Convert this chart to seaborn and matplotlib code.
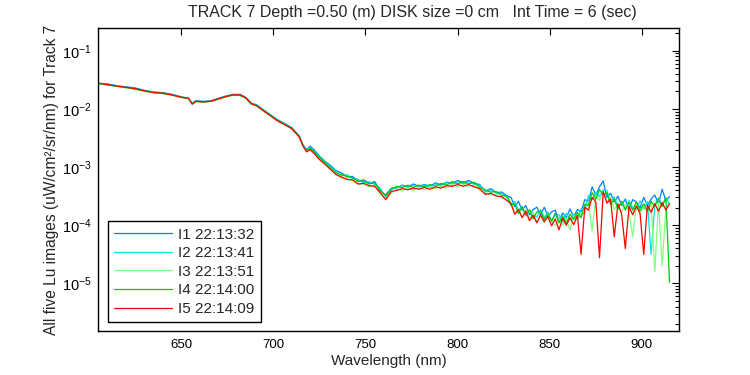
import matplotlib
matplotlib.use("Agg")
import matplotlib.pyplot as plt
import seaborn as sns
import numpy as np
import pandas as pd

sns.set_style("white")
plt.rcParams["font.family"] = ["Liberation Sans", "DejaVu Sans"]
plt.rcParams["mathtext.fontset"] = "custom"
plt.rcParams["mathtext.rm"] = "Liberation Sans"
plt.rcParams["mathtext.it"] = "Liberation Sans:italic"
plt.rcParams["mathtext.bf"] = "Liberation Sans:bold"

# wavelength grid (nm)
wavelength = [
    605, 610, 615, 620, 625, 630, 635, 640, 645, 650, 654, 656, 658, 662, 666, 670, 674, 678,
    682, 685, 688, 691, 694, 698, 702, 706, 710, 714, 716, 718, 720, 722, 725, 728, 731, 734,
    737, 740, 743, 746, 749, 752, 755, 758, 761, 764, 767, 770, 773, 776, 779, 782, 785, 788,
    791, 794, 797, 800, 803, 806, 809, 812, 815, 818, 821, 824, 827,
    829, 831, 833, 835, 837, 839, 841, 843, 845, 847, 849, 851, 853, 855, 857, 859, 861, 863,
    865, 867, 869, 871, 873, 875, 877, 879, 881, 883, 885, 887, 889, 891, 893, 895, 897, 899,
    901, 903, 905, 907, 909, 911, 913, 915,
]

# log10 of Lu for the five images
log_i1 = [
    -1.56, -1.57, -1.60, -1.62, -1.64, -1.68, -1.71, -1.72, -1.75, -1.79, -1.82, -1.90, -1.86, -1.87, -1.86, -1.82, -1.78, -1.75,
    -1.75, -1.80, -1.90, -1.93, -2.00, -2.09, -2.18, -2.25, -2.32, -2.46, -2.61, -2.70, -2.64, -2.70, -2.81, -2.90, -2.97, -3.06,
    -3.10, -3.17, -3.16, -3.24, -3.22, -3.28, -3.25, -3.40, -3.48, -3.36, -3.36, -3.31, -3.34, -3.29, -3.33, -3.30, -3.33, -3.27,
    -3.31, -3.26, -3.28, -3.23, -3.27, -3.23, -3.28, -3.30, -3.42, -3.37, -3.44, -3.43, -3.50,
    -3.52, -3.68, -3.59, -3.74, -3.66, -3.82, -3.73, -3.69, -3.82, -3.69, -3.85, -3.77, -3.74, -3.92, -3.79, -3.87, -3.72, -3.86,
    -3.73, -3.77, -3.56, -3.59, -3.34, -3.48, -3.34, -3.24, -3.52, -3.45, -3.60, -3.50, -3.66, -3.55, -3.72, -3.56, -3.60, -3.70,
    -3.52, -3.66, -3.55, -3.48, -3.63, -3.38, -3.58, -3.51,
]
log_i2 = [
    -1.56, -1.58, -1.60, -1.63, -1.65, -1.69, -1.71, -1.73, -1.76, -1.80, -1.82, -1.91, -1.87, -1.88, -1.87, -1.83, -1.79, -1.76,
    -1.76, -1.81, -1.91, -1.94, -2.01, -2.10, -2.19, -2.26, -2.33, -2.47, -2.62, -2.71, -2.66, -2.72, -2.83, -2.91, -2.99, -3.08,
    -3.15, -3.13, -3.20, -3.21, -3.27, -3.25, -3.30, -3.36, -3.52, -3.37, -3.36, -3.32, -3.35, -3.31, -3.35, -3.31, -3.34, -3.29,
    -3.32, -3.27, -3.29, -3.25, -3.29, -3.25, -3.30, -3.31, -3.43, -3.39, -3.45, -3.45, -3.53,
    -3.65, -3.59, -3.74, -3.68, -3.84, -3.73, -3.83, -3.86, -3.73, -3.87, -3.77, -3.93, -3.82, -3.82, -3.94, -3.79, -3.91, -3.81,
    -3.89, -3.72, -3.72, -3.49, -3.56, -3.43, -3.51, -3.39, -3.40, -3.60, -3.51, -3.68, -3.60, -3.74, -3.57, -3.70, -3.73, -3.58,
    -3.72, -3.60, -4.50, -3.66, -3.53, -3.66, -3.52, -3.64,
]
log_i3 = [
    -1.57, -1.59, -1.61, -1.64, -1.66, -1.70, -1.72, -1.74, -1.77, -1.80, -1.83, -1.92, -1.88, -1.88, -1.87, -1.84, -1.80, -1.77,
    -1.77, -1.82, -1.92, -1.95, -2.02, -2.11, -2.20, -2.27, -2.34, -2.48, -2.63, -2.73, -2.69, -2.75, -2.86, -2.94, -3.03, -3.12,
    -3.19, -3.22, -3.23, -3.30, -3.29, -3.34, -3.32, -3.46, -3.56, -3.45, -3.38, -3.41, -3.36, -3.40, -3.35, -3.39, -3.34, -3.37,
    -3.33, -3.36, -3.30, -3.34, -3.30, -3.33, -3.31, -3.40, -3.45, -3.48, -3.47, -3.54, -3.55,
    -3.60, -3.80, -3.73, -3.86, -3.73, -3.89, -3.78, -3.95, -3.84, -3.95, -3.81, -3.94, -4.00, -3.89, -4.00, -3.88, -4.08, -3.83,
    -3.92, -3.80, -3.80, -3.59, -4.10, -3.48, -3.57, -3.41, -3.59, -3.53, -3.73, -3.65, -3.78, -3.64, -3.77, -4.20, -3.66, -3.80,
    -3.67, -3.78, -3.62, -4.80, -3.61, -4.70, -3.72, -3.62,
]
log_i4 = [
    -1.56, -1.59, -1.61, -1.63, -1.66, -1.69, -1.72, -1.73, -1.76, -1.80, -1.82, -1.91, -1.87, -1.88, -1.87, -1.83, -1.79, -1.76,
    -1.77, -1.81, -1.91, -1.94, -2.01, -2.10, -2.19, -2.26, -2.33, -2.47, -2.62, -2.72, -2.67, -2.73, -2.84, -2.92, -3.01, -3.10,
    -3.13, -3.16, -3.18, -3.25, -3.24, -3.29, -3.27, -3.41, -3.49, -3.39, -3.33, -3.35, -3.31, -3.35, -3.31, -3.34, -3.30, -3.33,
    -3.28, -3.31, -3.25, -3.29, -3.25, -3.29, -3.26, -3.35, -3.39, -3.43, -3.42, -3.49, -3.50,
    -3.65, -3.63, -3.80, -3.68, -3.82, -3.74, -3.89, -3.77, -3.76, -3.90, -3.81, -3.93, -3.79, -3.96, -3.84, -3.97, -3.81, -3.90,
    -3.78, -3.87, -3.64, -3.66, -3.44, -3.55, -3.39, -3.48, -3.44, -3.64, -3.55, -3.72, -3.59, -3.73, -3.61, -3.74, -3.60, -3.75,
    -3.63, -3.76, -3.59, -3.67, -3.54, -3.68, -3.53, -4.98,
]
log_i5 = [
    -1.56, -1.58, -1.61, -1.63, -1.65, -1.69, -1.72, -1.73, -1.76, -1.80, -1.82, -1.92, -1.87, -1.88, -1.87, -1.83, -1.79, -1.76,
    -1.76, -1.81, -1.91, -1.95, -2.02, -2.11, -2.20, -2.27, -2.34, -2.48, -2.63, -2.74, -2.70, -2.76, -2.87, -2.95, -3.04, -3.13,
    -3.17, -3.21, -3.22, -3.29, -3.28, -3.32, -3.33, -3.44, -3.56, -3.42, -3.40, -3.37, -3.39, -3.36, -3.38, -3.35, -3.38, -3.34,
    -3.36, -3.32, -3.33, -3.30, -3.33, -3.30, -3.34, -3.37, -3.47, -3.45, -3.50, -3.51, -3.58,
    -3.63, -3.81, -3.73, -3.87, -3.76, -3.92, -3.83, -3.96, -3.82, -3.94, -3.85, -4.01, -3.89, -4.08, -3.88, -4.00, -3.87, -3.99,
    -3.83, -4.50, -3.69, -3.74, -3.52, -3.60, -4.56, -3.42, -3.62, -3.55, -4.20, -3.63, -3.81, -4.40, -3.68, -3.82, -3.67, -3.80,
    -4.50, -3.65, -3.78, -3.63, -3.76, -3.61, -3.74, -3.63,
]

labels = ["I1 22:13:32", "I2 22:13:41", "I3 22:13:51", "I4 22:14:00", "I5 22:14:09"]
colors = ["#0080FF", "#00E5E5", "#80FF80", "#00CC00", "#FF0000"]
series = [log_i1, log_i2, log_i3, log_i4, log_i5]

fig = plt.figure(figsize=(7.5, 3.75), dpi=100)
ax = fig.add_axes([0.131, 0.117, 0.774, 0.8075])

for name, col, vals in zip(labels, colors, series):
    df = pd.DataFrame({"wl": wavelength, "lu": 10.0 ** np.array(vals)})
    sns.lineplot(data=df, x="wl", y="lu", color=col, linewidth=0.9,
                 label=name, ax=ax, estimator=None, sort=False)

ax.set_yscale("log")
ax.set_xlim(605, 920)
ax.set_ylim(10 ** -5.82, 10 ** -0.615)
ax.set_xticks([650, 700, 750, 800, 850, 900])
ax.tick_params(which="both", direction="in", top=True, right=True, colors="black")
ax.tick_params(axis="x", labelsize=9.5, pad=6)
ax.tick_params(axis="y", labelsize=10.5, pad=5)
ax.tick_params(which="major", length=5, width=0.8)
ax.tick_params(which="minor", length=3, width=0.8)
for sp in ax.spines.values():
    sp.set_color("black")
    sp.set_linewidth(1.0)

ax.set_xlabel("Wavelength (nm)", fontsize=11, labelpad=2)
ax.set_ylabel("All five Lu images (uW/cm²/sr/nm) for Track 7", fontsize=11.2, labelpad=2)
fig.text(0.55, 0.968, "TRACK 7 Depth =0.50 (m) DISK size =0 cm   Int Time = 6 (sec)",
         ha="center", va="center", fontsize=11.5)

leg = ax.legend(loc="lower left", bbox_to_anchor=(0.017, 0.03), borderaxespad=0,
                fontsize=11, handlelength=3.8, handletextpad=0.4, labelspacing=0.3,
                fancybox=False, framealpha=1, edgecolor="black", borderpad=0.4)
leg.get_frame().set_linewidth(1.0)

fig.savefig("out.png", dpi=100, facecolor="white")
